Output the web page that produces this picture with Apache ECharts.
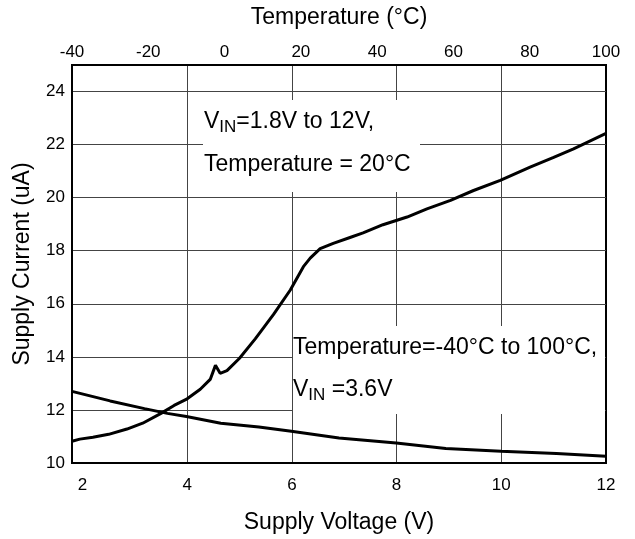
<!DOCTYPE html>
<html>
<head>
<meta charset="utf-8">
<script src="https://cdn.jsdelivr.net/npm/echarts@6/dist/echarts.min.js"></script>
<style>
html,body{margin:0;padding:0;background:#fff;}
#c{width:635px;height:539px;}
</style>
</head>
<body>
<div id="c"></div>
<script>
// Supply current vs supply voltage (T = 20°C), bottom axis
const voltage = [1.8, 1.95, 2.2, 2.5, 2.85, 3.15, 3.5, 3.75, 4.0, 4.25, 4.44, 4.54, 4.63, 4.76, 5.0, 5.3, 5.65, 5.97, 6.22, 6.35, 6.54, 6.79, 7.11, 7.36, 7.74, 8.2, 8.58, 9.03, 9.47, 9.98, 10.55, 11.0, 11.38, 12.0];
const currentVsVoltage = [10.82, 10.9, 10.97, 11.08, 11.28, 11.5, 11.87, 12.17, 12.42, 12.78, 13.15, 13.68, 13.38, 13.48, 13.95, 14.68, 15.6, 16.52, 17.4, 17.72, 18.08, 18.28, 18.5, 18.67, 18.98, 19.27, 19.58, 19.9, 20.27, 20.65, 21.15, 21.52, 21.84, 22.42];
// Supply current vs temperature (VIN = 3.6V), top axis
const temperature = [-40, -30, -21, -15, -10, -1, 9, 17.5, 30, 45, 58, 72.5, 87, 100];
const currentVsTemperature = [12.7, 12.34, 12.05, 11.87, 11.75, 11.5, 11.36, 11.2, 10.94, 10.75, 10.55, 10.44, 10.36, 10.25];
// Tick labels
const voltageTicks = [2, 4, 6, 8, 10, 12];
const voltageGrid = [4, 6, 8, 10];

const FONT = '"Liberation Sans", Arial, sans-serif';
const chart = echarts.init(document.getElementById('c'), null, {renderer: 'canvas'});

const pairs = (xs, ys) => xs.map((x, i) => [x, ys[i]]);

chart.setOption({
  backgroundColor: '#fff',
  animation: false,
  grid: {left: 72, right: 29, top: 65, bottom: 75, show: true, borderColor: '#000', borderWidth: 2, backgroundColor: 'transparent'},
  xAxis: [
    {
      type: 'value', position: 'bottom', min: 1.8, max: 12,
      name: 'Supply Voltage (V)', nameLocation: 'middle', nameGap: 48,
      nameTextStyle: {fontFamily: FONT, fontSize: 23, color: '#000'},
      axisLine: {show: true, onZero: false, lineStyle: {color: '#000', width: 2}},
      axisTick: {show: false, customValues: voltageGrid},
      axisLabel: {customValues: voltageTicks, fontFamily: FONT, fontSize: 17, color: '#000', margin: 14},
      splitLine: {show: true, lineStyle: {color: '#444', width: 1}}
    },
    {
      type: 'value', position: 'top', min: -40, max: 100, interval: 20,
      name: 'Temperature (°C)', nameLocation: 'middle', nameGap: 36,
      nameTextStyle: {fontFamily: FONT, fontSize: 23, color: '#000'},
      axisLine: {show: true, onZero: false, lineStyle: {color: '#000', width: 2}},
      axisTick: {show: false},
      axisLabel: {fontFamily: FONT, fontSize: 17, color: '#000', margin: 4},
      splitLine: {show: false}
    }
  ],
  yAxis: {
    type: 'value', min: 10, max: 25, interval: 2,
    name: 'Supply Current (uA)', nameLocation: 'middle', nameGap: 38,
    nameTextStyle: {fontFamily: FONT, fontSize: 23, color: '#000'},
    axisLine: {show: true, onZero: false, lineStyle: {color: '#000', width: 2}},
    axisTick: {show: false},
    axisLabel: {fontFamily: FONT, fontSize: 17, color: '#000', margin: 7,
      formatter: v => (v > 24 ? '' : String(v))},
    splitLine: {show: true, lineStyle: {color: '#444', width: 1}}
  },
  graphic: [
    {type: 'rect', z: 1, shape: {x: 203, y: 100, width: 217, height: 92}, style: {fill: '#fff'}},
    {type: 'rect', z: 1, shape: {x: 293, y: 326, width: 312, height: 88}, style: {fill: '#fff'}},
    {type: 'text', z: 5, left: 204, top: 110, style: {
      text: '{v|V}{s|IN}{v|=1.8V to 12V,}',
      rich: {v: {fontFamily: FONT, fontSize: 23, fill: '#000', verticalAlign: 'bottom'},
             s: {fontFamily: FONT, fontSize: 17, fill: '#000', verticalAlign: 'bottom', padding: [0, 0, -3, 0]}}
    }},
    {type: 'text', z: 5, left: 204, top: 153, style: {text: 'Temperature = 20°C', font: '23px ' + FONT, fill: '#000'}},
    {type: 'text', z: 5, left: 293, top: 336, style: {text: 'Temperature=-40°C to 100°C,', font: '23px ' + FONT, fill: '#000'}},
    {type: 'text', z: 5, left: 293, top: 378, style: {
      text: '{v|V}{s|IN}{v| =3.6V}',
      rich: {v: {fontFamily: FONT, fontSize: 23, fill: '#000', verticalAlign: 'bottom'},
             s: {fontFamily: FONT, fontSize: 17, fill: '#000', verticalAlign: 'bottom', padding: [0, 0, -3, 0]}}
    }}
  ],
  series: [
    {type: 'line', xAxisIndex: 0, yAxisIndex: 0, data: pairs(voltage, currentVsVoltage),
     showSymbol: false, lineStyle: {color: '#000', width: 3}, z: 3},
    {type: 'line', xAxisIndex: 1, yAxisIndex: 0, data: pairs(temperature, currentVsTemperature),
     showSymbol: false, lineStyle: {color: '#000', width: 3}, z: 3}
  ]
});
</script>
</body>
</html>
